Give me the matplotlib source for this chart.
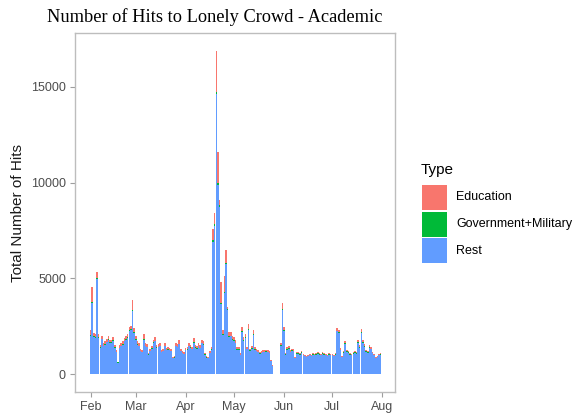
import numpy as np
import pandas as pd
import matplotlib
matplotlib.use("Agg")
import matplotlib.pyplot as plt
import matplotlib.dates as mdates
from matplotlib.patches import Rectangle

# daily hits, 1 Feb - 31 Jul (None = no data that day)
rest = [
    2000, 3730, 1950, 1900, 4950, 1900, 1380, 1820, 1450, 1520,
    1650, 1800, 1620, 1640, 1730, 1370, 1140, 600, 1360, 1450,
    1540, 1720, 1800, 1900, 2250, 2300, 3300, 2150, 1800, 1540,
    1450, 1180, 1130, 1800, 1440, 1400, 1000, 1180, 1310, 1620,
    1720, 1360, 1400, 1450, 1140, 1180, 1440, 1230, 1270, 1230,
    1180, 820, 860, 1440, 1400, 1550, 1180, 1090, 1050, 1230,
    1270, 1440, 1360, 1290, 1620, 1360, 1310, 1440, 1350, 1600,
    1530, 1000, 860, 820, 1090, 1270, 6900, 7750, 14650, 9900,
    8750, 3650, 2050, 4250, 5750, 3350, 1950, 1970, 1800, 1750,
    1600, 1280, 1260, 990, 2200, 1750, 1880, 1290, 2300, 1200,
    1310, 2030, 1270, 1180, 1130, 1060, 1090, 1130, 1140, 1160,
    1140, 1090, 670, 410, None, None, None, None, 1460, 3350,
    2250, 1010, 1280, 1320, 1140, 1210, 1190, 830, 1060, 1060,
    1010, 1100, 970, 920, 880, 920, 970, 920, 1010, 970,
    1010, 1060, 1010, 970, 1060, 1010, 970, 920, 1010, 970,
    970, 920, 1010, 2230, 2140, 1240, 880, 1100, 1570, 1150,
    1100, 1010, 970, 1060, 1100, 1060, 1630, 1380, 2150, 1630,
    1430, 1150, 1100, 1380, 1290, 1080, 970, 830, 880, 970,
    1010,
]
government = [
    40, 40, 30, 30, 50, 30, 20, 30, 20, 30,
    40, 30, 30, 30, 40, 20, 20, 10, 20, 30,
    30, 30, 40, 40, 40, 40, 60, 40, 30, 30,
    30, 20, 20, 30, 30, 30, 20, 20, 30, 30,
    30, 30, 30, 30, 20, 20, 30, 20, 30, 20,
    20, 20, 20, 30, 30, 30, 20, 20, 20, 20,
    30, 30, 30, 30, 30, 30, 30, 30, 30, 30,
    30, 20, 20, 20, 20, 30, 80, 90, 100, 80,
    70, 50, 30, 50, 60, 40, 40, 40, 40, 40,
    40, 30, 30, 20, 40, 40, 40, 30, 40, 30,
    30, 40, 30, 20, 20, 20, 20, 20, 20, 20,
    20, 20, 10, 10, None, None, None, None, 30, 40,
    40, 20, 30, 30, 30, 30, 30, 20, 20, 20,
    20, 30, 20, 20, 20, 20, 20, 20, 20, 20,
    20, 20, 20, 20, 20, 20, 20, 20, 20, 20,
    20, 20, 20, 40, 40, 30, 20, 30, 30, 30,
    30, 20, 20, 20, 30, 20, 30, 30, 40, 30,
    30, 30, 30, 30, 30, 20, 20, 20, 20, 20,
    20,
]
education = [
    260, 760, 170, 170, 340, 170, 100, 150, 130, 150,
    160, 170, 130, 130, 180, 110, 90, 40, 120, 120,
    130, 150, 160, 160, 160, 160, 510, 210, 170, 130,
    120, 100, 100, 270, 130, 120, 80, 100, 110, 150,
    200, 110, 120, 120, 90, 100, 130, 100, 100, 100,
    100, 60, 70, 130, 120, 190, 100, 90, 80, 100,
    100, 130, 110, 100, 210, 110, 110, 130, 120, 170,
    140, 80, 70, 60, 90, 100, 620, 560, 2150, 1620,
    280, 1100, 220, 800, 690, 110, 210, 190, 160, 160,
    140, 110, 110, 80, 230, 160, 180, 100, 260, 100,
    110, 230, 100, 100, 100, 90, 90, 100, 90, 100,
    90, 90, 50, 30, None, None, None, None, 110, 310,
    180, 70, 90, 100, 80, 90, 80, 50, 70, 70,
    70, 70, 60, 60, 50, 60, 60, 60, 70, 60,
    70, 70, 70, 60, 70, 70, 60, 60, 70, 60,
    60, 60, 70, 130, 120, 80, 50, 70, 100, 70,
    70, 70, 60, 70, 70, 70, 110, 90, 140, 110,
    90, 70, 70, 90, 80, 70, 60, 50, 50, 60,
    70,
]
days = pd.date_range("2019-02-01", periods=len(rest), freq="D")

df = pd.DataFrame({"date": days, "Rest": rest,
                   "Government+Military": government,
                   "Education": education}).dropna()

colors = {"Education": "#F8766D", "Government+Military": "#00BA38", "Rest": "#619CFF"}

W, H = 574, 417
fig = plt.figure(figsize=(W / 100, H / 100), dpi=100)
ax = fig.add_axes([75 / W, 25 / H, 320 / W, 359 / H])

x = mdates.date2num(df["date"])
bottom = np.zeros(len(df))
for name in ["Rest", "Government+Military", "Education"]:
    vals = df[name].to_numpy(dtype=float)
    ax.bar(x, vals, width=0.95, bottom=bottom, color=colors[name], linewidth=0)
    bottom += vals

ax.set_xlim(mdates.date2num(pd.Timestamp("2019-02-01")) - 9.7,
            mdates.date2num(pd.Timestamp("2019-08-01")) + 7.9)
ax.set_ylim(-940, 17820)
ax.xaxis.set_major_locator(mdates.MonthLocator())
ax.xaxis.set_major_formatter(mdates.DateFormatter("%b"))
ax.set_yticks([0, 5000, 10000, 15000])

for s in ax.spines.values():
    s.set_color("#BDBDBD")
    s.set_linewidth(1.0)
ax.tick_params(colors="#9E9E9E", length=3.5, width=0.8,
               labelcolor="#4D4D4D", labelsize=9, pad=3)
for lab in ax.get_xticklabels() + ax.get_yticklabels():
    lab.set_family("Liberation Sans")

ax.set_ylabel("Total Number of Hits", fontsize=11, family="Liberation Sans",
              color="#1A1A1A", labelpad=4)

fig.text(47 / W, 1 - 17 / H, "Number of Hits to Lonely Crowd - Academic",
         family="Liberation Serif", fontsize=13.2, ha="left", va="center",
         color="black")

# legend, drawn by hand to match ggplot's key layout
fig.text(421 / W, 1 - 170 / H, "Type", family="Liberation Sans", fontsize=11,
         ha="left", va="center", color="black")
order = ["Education", "Government+Military", "Rest"]
for i, name in enumerate(order):
    top = 185 + i * 26.5
    fig.add_artist(Rectangle((421.5 / W, 1 - (top + 25) / H), 25 / W, 25 / H,
                             transform=fig.transFigure, color=colors[name],
                             linewidth=0))
    fig.text(456 / W, 1 - (top + 12.5) / H, name, family="Liberation Sans",
             fontsize=9, ha="left", va="center", color="black")

fig.savefig("out.png", dpi=100)
